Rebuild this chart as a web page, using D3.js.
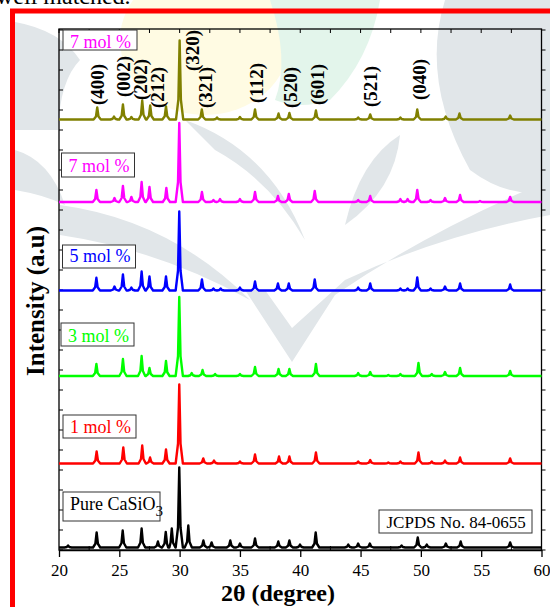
<!DOCTYPE html>
<html>
<head>
<meta charset="utf-8">
<script src="https://cdn.jsdelivr.net/npm/d3@7"></script>
<style>
  body { margin: 0; background: #fff; }
  svg { display: block; }
  text { font-family: "Liberation Serif", "Times New Roman", serif; }
</style>
</head>
<body>
<div id="container"></div>
<script>
/* CONSTANTS AND GLOBALS */
const width = 550,
    height = 607;

const margin = { left: 59, right: 8.5, top: 29, bottom: 57 };

// DATA
const xTicks = [20, 25, 30, 35, 40, 45, 50, 55, 60];

const sampleNames = ["Pure CaSiO", "1 mol %", "3 mol %", "5 mol %", "7 mol %", "7 mol %"];
const lineColors = ["#000000", "#ff0000", "#00ff00", "#0000ff", "#ff00ff", "#808000"];
const labelColors = ["#000000", "#ff0000", "#00ff00", "#0000ff", "#ff00ff", "#ff00ff"];
// vertical offset of each pattern (a.u.)
const offsets = [2.5, 86.5, 174, 259.5, 348, 430.5];

// peaks: [2theta, height a.u.]
const peaksPure = [[20.75, 2], [23.12, 15], [25.28, 17], [26.85, 19], [28.2, 6], [28.85, 15.5], [29.35, 19],
    [29.97, 80], [30.72, 22], [31.97, 7], [32.65, 5], [34.2, 7], [35.0, 4], [36.25, 9], [38.18, 6], [39.1, 7],
    [39.98, 3], [41.28, 15], [43.98, 3], [44.8, 4], [45.77, 4], [48.4, 2], [49.74, 10], [50.49, 3], [52.07, 4],
    [53.3, 6], [57.4, 5]];
const peaks1 = [[23.12, 12], [25.33, 16], [26.9, 18], [27.55, 6], [28.87, 14], [29.97, 79], [31.96, 5],
    [32.85, 3], [35.0, 2], [36.25, 9], [38.24, 7], [39.1, 7], [41.3, 11], [44.8, 2], [45.8, 3.5], [47.3, 1],
    [48.3, 2], [49.8, 11], [50.9, 2], [52.0, 3], [53.25, 6], [57.4, 5]];
const peaks3 = [[23.1, 12], [25.3, 17], [26.85, 20], [27.5, 8], [28.87, 15], [29.97, 79], [31.0, 3],
    [31.9, 6], [32.94, 2], [35.0, 2], [36.25, 9], [38.2, 7], [39.1, 7], [41.3, 12], [44.8, 3], [45.8, 4],
    [47.3, 1], [48.3, 2], [49.8, 13], [50.9, 2], [52.0, 4], [53.25, 8], [57.4, 5]];
const peaks5 = [[23.1, 12.7], [24.6, 4], [25.3, 16], [26.0, 3], [26.85, 19], [27.5, 14], [28.87, 14],
    [29.97, 79], [31.85, 11], [32.8, 2], [33.4, 2], [35.0, 3], [36.25, 9], [38.15, 7], [39.05, 7], [41.2, 11],
    [44.8, 3], [45.8, 7], [48.3, 2], [48.9, 2], [49.7, 13], [50.8, 2], [52.0, 4], [53.25, 7], [57.4, 6]];
const peaks7 = [[23.1, 12], [24.6, 4], [25.3, 16], [26.0, 5], [26.85, 20], [27.5, 15], [28.9, 14],
    [29.97, 79], [31.85, 10], [32.8, 2], [33.35, 3], [35.0, 3], [36.25, 10], [38.15, 6], [39.05, 8], [41.2, 11],
    [44.8, 2], [45.8, 6], [48.3, 3], [48.9, 3], [49.7, 12], [50.8, 2], [52.0, 4], [53.25, 7], [54.9, 1], [57.4, 5]];
const peaks7b = [[23.17, 12], [24.56, 3], [25.3, 15], [26.0, 2.5], [26.9, 19], [27.56, 14], [28.87, 13],
    [30.0, 79], [31.84, 10], [33.1, 2], [35.0, 2.5], [36.25, 10], [38.2, 6], [39.1, 6.5], [41.3, 9], [44.8, 2],
    [45.8, 5], [48.3, 2], [49.7, 10], [52.06, 3], [53.2, 6], [57.4, 4]];
const allPeaks = [peaksPure, peaks1, peaks3, peaks5, peaks7, peaks7b];

// Miller indices over the top pattern
const hklLabels = ["(400)", "(002)", "(202)", "(212)", "(320)", "(321)", "(112)", "(520)", "(601)", "(521)", "(040)"];
const hklTheta = [23.15, 25.3, 26.75, 28.13, 31.03, 32.1, 36.33, 39.2, 41.4, 45.8, 49.85];
// lower end of each rotated label (a.u.)
const hklBase = [445, 453, 450, 442, 479, 442, 447, 442, 445, 443, 450];

const jcpdsText = "JCPDS No. 84-0655";

const svg = d3.select("#container")
    .append("svg")
    .attr("width", width)
    .attr("height", height);

// faint background watermark
const wm = svg.append("g");
const grey = "#e1e6e9";
wm.append("ellipse").attr("cx", 205).attr("cy", 40).attr("rx", 85).attr("ry", 75).attr("fill", "#fffbe3");
wm.append("path").attr("d", "M270,0 L380,0 Q370,60 330,100 Q300,110 275,100 Q290,60 270,0 Z").attr("fill", "#e3f5eb");
wm.append("path").attr("d", "M15,22 Q60,30 80,60 Q60,80 58,130 L15,130 Z").attr("fill", grey);
wm.append("path").attr("d", "M15,150 Q50,160 65,205 Q45,195 15,190 Z").attr("fill", grey);
wm.append("path").attr("d", "M445,0 Q420,80 470,170 Q510,200 550,190 L550,0 Z").attr("fill", grey);
wm.append("path").attr("d", "M185,120 Q270,150 305,240 Q270,180 215,150 Z").attr("fill", grey);
wm.append("path").attr("d", "M60,205 Q170,220 250,300 Q160,250 60,235 Z").attr("fill", grey);
wm.append("path").attr("d", "M345,225 Q360,160 400,135 Q395,190 345,225 Z").attr("fill", grey);
wm.append("path").attr("d", "M550,180 Q430,230 335,295 L292,362 L245,290 L265,290 L292,328 L345,280 Q440,235 550,215 Z").attr("fill", grey);

// red border around the figure
svg.append("rect")
    .attr("x", 12.5).attr("y", 11)
    .attr("width", 700).attr("height", 800)
    .attr("fill", "none")
    .attr("stroke", "#ff0000")
    .attr("stroke-width", 5);

svg.append("text")
    .attr("x", -4).attr("y", 4)
    .style("font-size", "24px")
    .text("well matched.");

// SCALES
const xScale = d3.scaleLinear()
    .domain([20, 60])
    .range([margin.left, width - margin.right]);

const yScale = d3.scaleLinear()
    .domain([0, 521])
    .range([height - margin.bottom, margin.top]);

// AXES
const xAxis = d3.axisBottom(xScale).tickValues(xTicks).tickSize(7).tickSizeOuter(0);
const xAxisG = svg.append("g")
    .attr("transform", "translate(0," + (height - margin.bottom) + ")")
    .call(xAxis);
xAxisG.selectAll("text").style("font-size", "17px").attr("dy", "0.95em");
xAxisG.selectAll("line, path").attr("stroke", "#000").attr("stroke-width", 1.3);

const minorX = d3.range(22.5, 60, 5);
svg.append("g").selectAll("line")
    .data(minorX)
    .join("line")
    .attr("x1", d => xScale(d)).attr("x2", d => xScale(d))
    .attr("y1", height - margin.bottom).attr("y2", height - margin.bottom - 4)
    .attr("stroke", "#000");

// top ticks inward
svg.append("g").selectAll("line")
    .data(d3.range(20, 60.1, 2.5))
    .join("line")
    .attr("x1", d => xScale(d)).attr("x2", d => xScale(d))
    .attr("y1", margin.top).attr("y2", margin.top + 4)
    .attr("stroke", "#000");

// side ticks
const yTicks = yScale.ticks(20);
svg.append("g").selectAll("line")
    .data(yTicks)
    .join("line")
    .attr("x1", margin.left).attr("x2", margin.left + 4)
    .attr("y1", d => yScale(d)).attr("y2", d => yScale(d))
    .attr("stroke", "#000");
svg.append("g").selectAll("line")
    .data(yTicks)
    .join("line")
    .attr("x1", width - margin.right).attr("x2", width - margin.right + 4)
    .attr("y1", d => yScale(d)).attr("y2", d => yScale(d))
    .attr("stroke", "#000");

// frame
svg.append("rect")
    .attr("x", margin.left).attr("y", margin.top)
    .attr("width", width - margin.left - margin.right)
    .attr("height", height - margin.top - margin.bottom)
    .attr("fill", "none")
    .attr("stroke", "#000")
    .attr("stroke-width", 1.3);

// PATTERNS
const hw = 0.3;
function patternPoints(peaks) {
    const pts = [[20, 0]];
    peaks.forEach(p => {
        pts.push([p[0] - hw, 0], [p[0] - hw * 0.35, p[1] * 0.25], [p[0], p[1]],
            [p[0] + hw * 0.35, p[1] * 0.25], [p[0] + hw, 0]);
    });
    pts.push([60, 0]);
    return pts.sort((a, b) => a[0] - b[0]);
}

allPeaks.forEach((peaks, i) => {
    const line = d3.line()
        .x(d => xScale(d[0]))
        .y(d => yScale(offsets[i] + d[1]));
    svg.append("path")
        .datum(patternPoints(peaks))
        .attr("d", line)
        .attr("fill", "none")
        .attr("stroke", lineColors[i])
        .attr("stroke-width", 2.4)
        .attr("stroke-linejoin", "round");
});

// LABEL BOXES
const boxes = [
    { x: 63, y: 492, w: 97, h: 29, ty: 510 },
    { x: 63, y: 415, w: 73, h: 23, ty: 433 },
    { x: 61, y: 323, w: 73, h: 23, ty: 341.5 },
    { x: 62.5, y: 245, w: 73, h: 23, ty: 262 },
    { x: 61.5, y: 153, w: 73, h: 24, ty: 171.5 },
    { x: 63, y: 30, w: 74, h: 20, ty: 47.5 }
];
boxes.forEach((b, i) => {
    svg.append("rect")
        .attr("x", b.x).attr("y", b.y).attr("width", b.w).attr("height", b.h)
        .attr("fill", "#fff").attr("stroke", "#333").attr("stroke-width", 1);
    const t = svg.append("text")
        .attr("x", b.x + 7).attr("y", b.ty)
        .attr("fill", labelColors[i])
        .style("font-size", "18px")
        .text(sampleNames[i]);
    if (i === 0) {
        t.append("tspan").attr("dy", 6).style("font-size", "15px").text("3");
    }
});

svg.append("rect")
    .attr("x", 379).attr("y", 510).attr("width", 153).attr("height", 23)
    .attr("fill", "#fff").attr("stroke", "#333").attr("stroke-width", 1);
svg.append("text")
    .attr("x", 386.5).attr("y", 528)
    .style("font-size", "17px")
    .text(jcpdsText);

// MILLER INDICES
svg.append("g").selectAll("text")
    .data(hklLabels)
    .join("text")
    .attr("transform", (d, i) => "translate(" + xScale(hklTheta[i]) + "," + yScale(hklBase[i]) + ") rotate(-90)")
    .attr("dy", "0.35em")
    .style("font-size", "19px")
    .style("font-weight", "bold")
    .text(d => d);

// AXIS TITLES
svg.append("text")
    .attr("x", 278).attr("y", 601)
    .attr("text-anchor", "middle")
    .style("font-size", "24px")
    .style("font-weight", "bold")
    .text("2θ (degree)");

svg.append("text")
    .attr("transform", "translate(35,301) rotate(-90)")
    .attr("text-anchor", "middle")
    .attr("dy", "0.35em")
    .style("font-size", "25px")
    .style("font-weight", "bold")
    .text("Intensity (a.u)");
</script>
</body>
</html>
